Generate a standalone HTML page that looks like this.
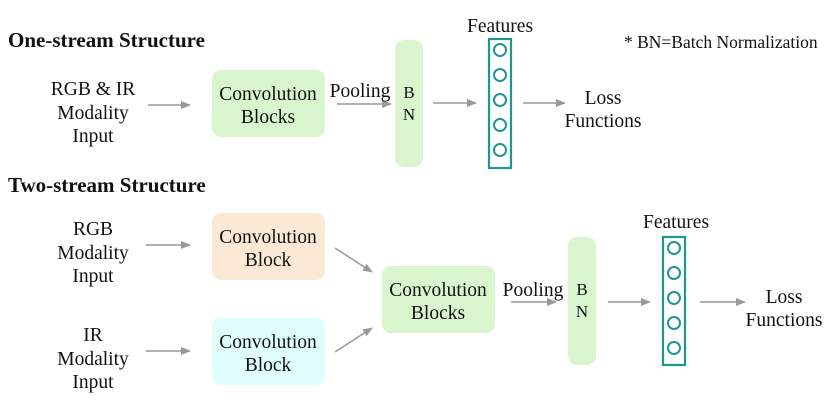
<!DOCTYPE html>
<html><head><style>body{margin:0;background:#fff}svg{display:block}svg text{font-family:"Liberation Serif","Times New Roman",Times,serif !important;fill:#111}</style></head><body>
<svg width="830" height="410" viewBox="0 0 830 410" xmlns="http://www.w3.org/2000/svg" font-family="Liberation Serif, serif">
<defs><marker id="a" markerWidth="10" markerHeight="8" refX="9" refY="4" orient="auto" markerUnits="userSpaceOnUse"><path d="M0,0 L10,4 L0,8z" fill="#999"/></marker></defs>
<g stroke="#999" stroke-width="1.5" fill="none" marker-end="url(#a)">
<line x1="148" y1="105" x2="190" y2="105"/>
<line x1="337" y1="104" x2="391" y2="104"/>
<line x1="433" y1="103" x2="476" y2="103"/>
<line x1="523" y1="103" x2="565" y2="103"/>
<line x1="146" y1="245" x2="190" y2="245"/>
<line x1="146" y1="351" x2="190" y2="351"/>
<line x1="335" y1="248" x2="372" y2="272"/>
<line x1="335" y1="352" x2="372" y2="328"/>
<line x1="511" y1="302" x2="556" y2="302"/>
<line x1="608" y1="302" x2="650" y2="302"/>
<line x1="700" y1="302" x2="745" y2="302"/>
</g>
<text x="8" y="47" font-size="21" font-weight="bold">One-stream Structure</text>
<text x="8" y="192" font-size="21" font-weight="bold">Two-stream Structure</text>
<text x="624" y="48" font-size="17.5">* BN=Batch Normalization</text>
<g font-size="19.5" text-anchor="middle">
<text x="93" y="95">RGB &amp; IR</text><text x="93" y="119">Modality</text><text x="93" y="142">Input</text>
<rect x="212" y="70" width="113" height="67" rx="9" fill="#d8f5cd"/>
<text x="268" y="100">Convolution</text><text x="268" y="123">Blocks</text>
<text x="360" y="97">Pooling</text>
<rect x="395" y="40" width="28" height="127" rx="9" fill="#d8f5cd"/>
<text x="409" y="98" font-size="17">B</text><text x="409" y="120" font-size="17">N</text>
<text x="500" y="32">Features</text>
<rect x="489" y="39" width="22" height="129" fill="none" stroke="#1f9690" stroke-width="2.2"/>
<g fill="none" stroke="#1f9690" stroke-width="2"><circle cx="500" cy="50" r="6"/><circle cx="500" cy="75" r="6"/><circle cx="500" cy="100" r="6"/><circle cx="500" cy="125" r="6"/><circle cx="500" cy="150" r="6"/></g>
<text x="603" y="104">Loss</text><text x="603" y="127">Functions</text>

<text x="93" y="235">RGB</text><text x="93" y="259">Modality</text><text x="93" y="282">Input</text>
<text x="93" y="341">IR</text><text x="93" y="365">Modality</text><text x="93" y="388">Input</text>
<rect x="212" y="213" width="113" height="67" rx="9" fill="#fbe9d6"/>
<text x="268" y="243">Convolution</text><text x="268" y="266">Block</text>
<rect x="212" y="318" width="113" height="67" rx="9" fill="#dffdfd"/>
<text x="268" y="348">Convolution</text><text x="268" y="371">Block</text>
<rect x="382" y="266" width="113" height="67" rx="9" fill="#d8f5cd"/>
<text x="438" y="296">Convolution</text><text x="438" y="319">Blocks</text>
<text x="533" y="296">Pooling</text>
<rect x="568" y="237" width="28" height="128" rx="9" fill="#d8f5cd"/>
<text x="582" y="295" font-size="17">B</text><text x="582" y="317" font-size="17">N</text>
<text x="676" y="228">Features</text>
<rect x="663" y="237" width="22" height="128" fill="none" stroke="#1f9690" stroke-width="2.2"/>
<g fill="none" stroke="#1f9690" stroke-width="2"><circle cx="674" cy="248" r="6"/><circle cx="674" cy="273" r="6"/><circle cx="674" cy="298" r="6"/><circle cx="674" cy="323" r="6"/><circle cx="674" cy="348" r="6"/></g>
<text x="784" y="303">Loss</text><text x="784" y="326">Functions</text>
</g>
</svg>
</body></html>
